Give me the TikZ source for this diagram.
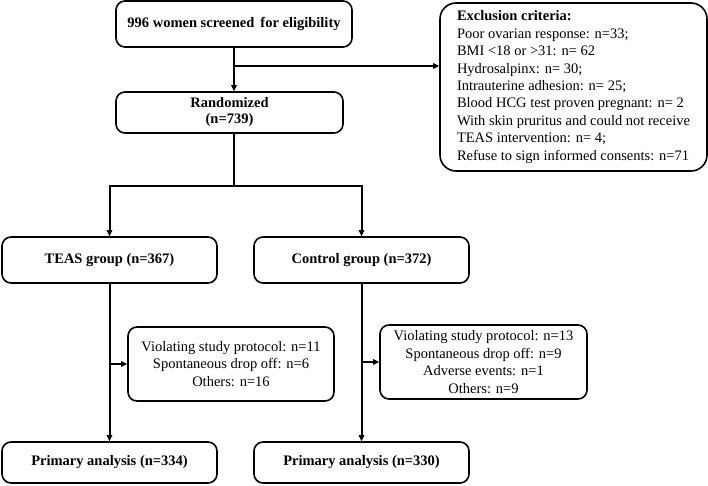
\documentclass[tikz,border=0pt]{standalone}
\usepackage{fontspec}
\setmainfont{Liberation Serif}
\usetikzlibrary{arrows.meta,positioning}
\begin{document}
\begin{tikzpicture}[x=1pt,y=-1pt,
  box/.style={draw,line width=1.6pt,rounded corners=9pt,inner sep=0pt,align=center,font=\fontsize{14.5}{17.4}\selectfont},
  bbox/.style={box,font=\fontsize{14.5}{16}\selectfont\bfseries},
  conn/.style={line width=2pt},
  arr/.style={conn,-{Triangle[length=6pt,width=5.5pt]}}]
\useasboundingbox (0,0) rectangle (708,485);
\node[bbox,minimum width=236pt,minimum height=46pt] (screen) at (234,24) {996 women screened\, for eligibility};
\node[bbox,minimum width=227pt,minimum height=41pt] (rand) at (229.5,112.5) {Randomized\\(n=739)};
\node[box,minimum width=267pt,minimum height=168pt,rounded corners=16pt,align=left] (excl) at (573.5,87) {\textbf{Exclusion criteria:}\\
Poor ovarian response: n=33;\\
BMI <18 or >31: n= 62\\
Hydrosalpinx: n= 30;\\
Intrauterine adhesion: n= 25;\\
Blood HCG test proven pregnant: n= 2\\
With skin pruritus and could not receive\\
TEAS intervention: n= 4;\\
Refuse to sign informed consents: n=71};
\node[bbox,minimum width=215pt,minimum height=46pt] (teas) at (109.5,260) {TEAS group (n=367)};
\node[bbox,minimum width=215pt,minimum height=46pt] (ctrl) at (361.5,260) {Control group (n=372)};
\node[box,minimum width=206pt,minimum height=74pt] (teasx) at (231,364) {Violating study protocol: n=11\\Spontaneous drop off: n=6\\Others: n=16};
\node[box,minimum width=207pt,minimum height=74pt] (ctrlx) at (483.5,362) {Violating study protocol: n=13\\Spontaneous drop off: n=9\\Adverse events: n=1\\Others: n=9};
\node[bbox,minimum width=215pt,minimum height=41pt] (prim1) at (109.5,462.5) {Primary analysis (n=334)};
\node[bbox,minimum width=215pt,minimum height=41pt] (prim2) at (361.5,462.5) {Primary analysis (n=330)};
\coordinate (j1) at (234,66);
\coordinate (j2) at (234,186);
\draw[arr] (screen.south) -- (screen.south |- rand.north);
\draw[arr] (j1) -- (j1 -| excl.west);
\draw[conn] (rand.south -| j2) -- (j2);
\draw[arr] (j2) -| (teas.north);
\draw[arr] (j2) -| (ctrl.north);
\draw[arr] (teas.south) -- (prim1.north);
\draw[arr] (ctrl.south) -- (prim2.north);
\draw[arr] (teas.south |- teasx.west) -- (teasx.west);
\draw[arr] (ctrl.south |- ctrlx.west) -- (ctrlx.west);
\end{tikzpicture}
\end{document}
